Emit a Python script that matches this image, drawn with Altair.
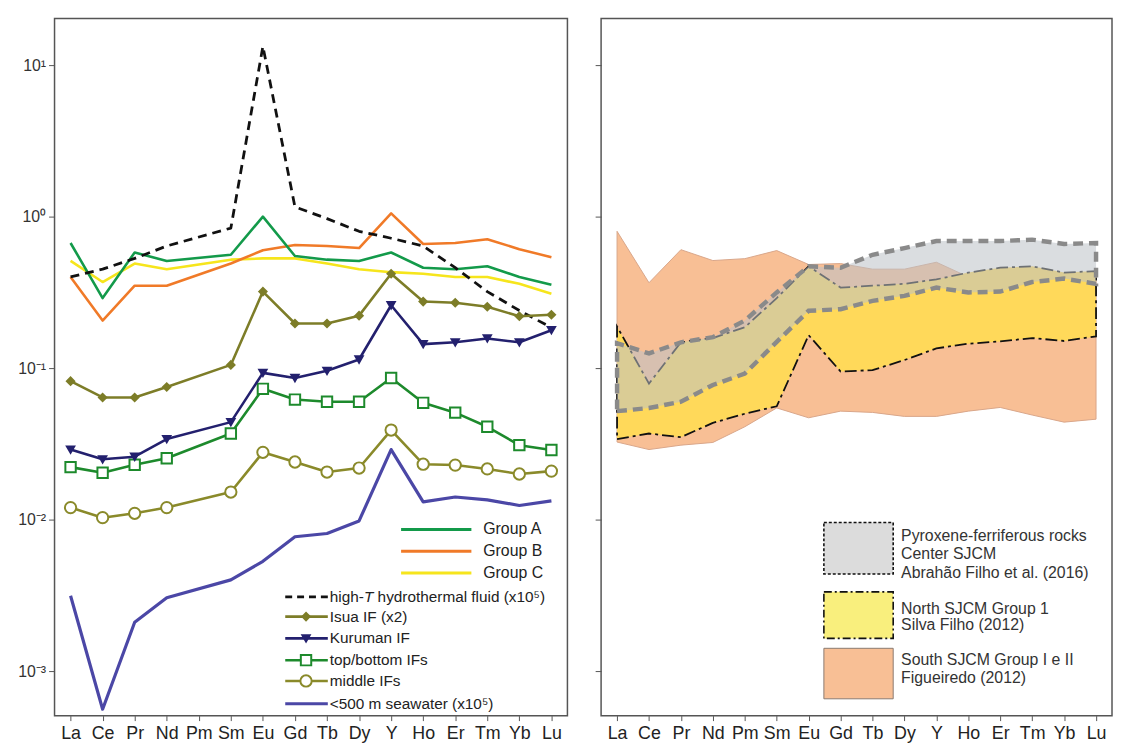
import altair as alt
import pandas as pd

# ---------------- data ----------------
ELEMENTS = ["La", "Ce", "Pr", "Nd", "Pm", "Sm", "Eu", "Gd", "Tb", "Dy", "Y", "Ho", "Er", "Tm", "Yb", "Lu"]
N = None

# left panel (normalized values, Pm missing)
group_a = [0.67, 0.29, 0.58, 0.51, N, 0.56, 1.00, 0.55, 0.52, 0.51, 0.58, 0.46, 0.45, 0.47, 0.40, 0.355]
group_b = [0.40, 0.206, 0.35, 0.35, N, 0.49, 0.60, 0.65, 0.64, 0.62, 1.05, 0.66, 0.67, 0.71, 0.61, 0.54]
group_c = [0.51, 0.37, 0.49, 0.45, N, 0.52, 0.53, 0.53, 0.49, 0.45, 0.43, 0.42, 0.40, 0.40, 0.36, 0.31]
hydrothermal = [0.40, 0.45, 0.53, 0.64, N, 0.84, 13.3, 1.16, 0.97, 0.80, 0.72, 0.64, 0.46, 0.32, 0.24, 0.185]
isua = [0.082, 0.064, 0.064, 0.075, N, 0.105, 0.32, 0.197, 0.197, 0.222, 0.42, 0.275, 0.27, 0.254, 0.22, 0.225]
kuruman = [0.029, 0.025, 0.026, 0.034, N, 0.044, 0.093, 0.086, 0.096, 0.114, 0.26, 0.144, 0.148, 0.157, 0.148, 0.178]
top_bottom = [0.0222, 0.0204, 0.023, 0.0254, N, 0.037, 0.073, 0.062, 0.060, 0.060, 0.086, 0.059, 0.0508, 0.041, 0.031, 0.0288]
middle = [0.012, 0.0103, 0.011, 0.012, N, 0.0152, 0.0278, 0.024, 0.0206, 0.0219, 0.039, 0.0232, 0.0229, 0.0216, 0.020, 0.0209]
seawater = [0.00314, 0.00056, 0.0021, 0.00305, N, 0.0040, 0.0053, 0.0077, 0.0081, 0.0098, 0.029, 0.0131, 0.0141, 0.0135, 0.0124, 0.0133]

# right panel (envelopes)
south_low = [0.0325, 0.029, 0.031, 0.0323, 0.041, 0.0546, 0.047, 0.052, 0.051, 0.048, 0.048, 0.052, 0.055, 0.049, 0.044, 0.046]
south_high = [0.80, 0.366, 0.605, 0.513, 0.528, 0.597, 0.483, 0.49, 0.45, 0.45, 0.50, 0.40, 0.41, 0.42, 0.40, 0.40]
north_low = [0.034, 0.037, 0.035, 0.0435, 0.050, 0.056, 0.165, 0.095, 0.097, 0.113, 0.135, 0.145, 0.150, 0.158, 0.151, 0.162]
north_high = [0.188, 0.079, 0.148, 0.158, 0.186, 0.29, 0.47, 0.34, 0.35, 0.36, 0.385, 0.427, 0.46, 0.47, 0.427, 0.437]
pyrox_low = [0.052, 0.0545, 0.060, 0.0774, 0.092, 0.149, 0.239, 0.245, 0.278, 0.30, 0.34, 0.316, 0.32, 0.37, 0.39, 0.36]
pyrox_high = [0.146, 0.125, 0.148, 0.160, 0.206, 0.316, 0.47, 0.46, 0.56, 0.62, 0.69, 0.69, 0.69, 0.705, 0.66, 0.67]

DECADES = [0.001, 0.01, 0.1, 1, 10]
DECADE_LABELS = ["10\u207b\u00b3", "10\u207b\u00b2", "10\u207b\u00b9", "10\u2070", "10\u00b9"]

# ---------------- styling ----------------
FONT = "Liberation Sans"
W_L, W_R, H = 518, 516, 704
Y_DOMAIN = [5.08e-4, 20.3]

label_expr = ("datum.value >= 5 ? '%s' : datum.value >= 0.5 ? '%s' : datum.value >= 0.05 ? '%s' : "
              "datum.value >= 0.005 ? '%s' : '%s'") % tuple(DECADE_LABELS[::-1])

x_scale = alt.Scale(type="point", domain=ELEMENTS, padding=0.5)
x_axis = alt.Axis(title=None, labelAngle=0, labelFontSize=18, labelColor="#222", tickSize=5,
                  labelPadding=4, domain=False, grid=False, tickColor="#555", labelFont=FONT)
y_scale = alt.Scale(type="log", domain=Y_DOMAIN, nice=False)
y_axis_left = alt.Axis(title=None, values=DECADES, labelExpr=label_expr, tickSize=6, labelFontSize=16,
                       labelColor="#333", minExtent=46, maxExtent=46, domain=False, grid=False,
                       tickColor="#555", labelFont=FONT, labelPadding=3)
y_axis_right = alt.Axis(title=None, values=DECADES, labels=False, tickSize=6, minExtent=6, maxExtent=6,
                        domain=False, grid=False, tickColor="#555")

X = alt.X("element:N", sort=ELEMENTS, scale=x_scale, axis=x_axis)
Y_L = alt.Y("value:Q", scale=y_scale, axis=y_axis_left)


def sdf(values):
    return pd.DataFrame({"element": ELEMENTS, "value": values}).dropna()


one = pd.DataFrame({"k": [0]})


def line_layer(values, color, width=2.6, dash=None):
    kw = dict(color=color, strokeWidth=width, strokeJoin="round")
    if dash:
        kw["strokeDash"] = dash
    return alt.Chart(sdf(values)).mark_line(**kw).encode(x=X, y=Y_L)


def point_layer(values, color, shape, size, fill):
    return alt.Chart(sdf(values)).mark_point(shape=shape, size=size, filled=True, fill=fill,
                                             stroke=color, strokeWidth=2, opacity=1).encode(x=X, y=Y_L)


C_A, C_B, C_C = "#139a4a", "#f07a28", "#f6e51c"
C_ISUA, C_KUR, C_TB, C_MID, C_SEA = "#7d7d28", "#23206e", "#1d8a2c", "#8a8a2a", "#4b47a6"

layers = [
    line_layer(group_c, C_C),
    line_layer(group_b, C_B),
    line_layer(group_a, C_A),
    line_layer(hydrothermal, "#111", 2.8, [9, 6]),
    line_layer(seawater, C_SEA, 3.2),
    line_layer(middle, C_MID),
    point_layer(middle, C_MID, "circle", 130, "white"),
    line_layer(top_bottom, C_TB),
    point_layer(top_bottom, C_TB, "square", 110, "white"),
    line_layer(kuruman, C_KUR),
    point_layer(kuruman, C_KUR, "triangle-down", 55, C_KUR),
    line_layer(isua, C_ISUA),
    point_layer(isua, C_ISUA, "diamond", 55, C_ISUA),
]


def txt(text, x, y, size, color="#222", style="normal"):
    return alt.Chart(one).mark_text(text=text, align="left", baseline="middle", fontSize=size,
                                    font=FONT, color=color, fontStyle=style).encode(x=alt.value(x), y=alt.value(y))


# legend of left panel
LEG_FS = 16
for lab, col, yy in [("Group A", C_A, 516), ("Group B", C_B, 538), ("Group C", C_C, 560)]:
    layers.append(alt.Chart(one).mark_rule(color=col, strokeWidth=3).encode(
        x=alt.value(350), x2=alt.value(421), y=alt.value(yy)))
    layers.append(txt(lab, 433, yy, LEG_FS))

SMALL_FS = 15.5
legend_items = [
    (None, "#111", [7, 5], None, 584, 2.8),
    ("Isua IF (x2)", C_ISUA, None, ("diamond", 55, C_ISUA), 604, 2.6),
    ("Kuruman IF", C_KUR, None, ("triangle-down", 55, C_KUR), 626, 2.6),
    ("top/bottom IFs", C_TB, None, ("square", 110, "white"), 648, 2.6),
    ("middle IFs", C_MID, None, ("circle", 130, "white"), 669, 2.6),
    ("<500 m seawater (x10\u2075)", C_SEA, None, None, 692, 3.2),
]
for lab, col, dash, mk, yy, sw in legend_items:
    kw = dict(color=col, strokeWidth=sw)
    if dash:
        kw["strokeDash"] = dash
    layers.append(alt.Chart(one).mark_rule(**kw).encode(x=alt.value(233), x2=alt.value(276), y=alt.value(yy)))
    if mk:
        layers.append(alt.Chart(one).mark_point(shape=mk[0], size=mk[1], filled=True, fill=mk[2], stroke=col,
                                                strokeWidth=2, opacity=1).encode(x=alt.value(254), y=alt.value(yy)))
    if lab:
        layers.append(txt(lab, 278, yy, SMALL_FS))

# "high-T hydrothermal fluid (x10^5)" with italic T
layers.append(txt("high-", 278, 584, SMALL_FS))
layers.append(txt("T", 278 + 34.5, 584, SMALL_FS, style="italic"))
layers.append(txt("hydrothermal fluid (x10\u2075)", 278 + 34.5 + 9.5 + 4.3, 584, SMALL_FS))

left = alt.layer(*layers).properties(width=W_L, height=H)

# ---------------- right panel ----------------
Y_R = alt.Y("lo:Q", scale=y_scale, axis=y_axis_right)


def band_df(lo, hi):
    return pd.DataFrame({"element": ELEMENTS, "lo": lo, "hi": hi})


south = alt.Chart(band_df(south_low, south_high)).mark_area(
    fill="#f8bf95", stroke="#d9a68a", strokeWidth=1, opacity=1).encode(x=X, y=Y_R, y2="hi:Q")
north = alt.Chart(band_df(north_low, north_high)).mark_area(
    fill="#ffd95a", stroke="#111", strokeWidth=1.8, strokeDash=[12, 4, 3, 4], opacity=1).encode(x=X, y=Y_R, y2="hi:Q")
pyrox = alt.Chart(band_df(pyrox_low, pyrox_high)).mark_area(
    fill="#bcc1c7", fillOpacity=0.55, stroke="#8a8a8a", strokeWidth=4.5, strokeDash=[10, 6]).encode(x=X, y=Y_R, y2="hi:Q")

rlayers = [south, north, pyrox]

R_FS = 16
rleg = [
    ("#dcdcdc", "#111", [3, 2], 1.6, 509, 561, ["Pyroxene-ferriferous rocks", "Center SJCM", "Abrah\u00e3o Filho et al. (2016)"], [523, 541, 560]),
    ("#f9ef7d", "#111", [8, 3, 2, 3], 1.6, 579, 626, ["North SJCM Group 1", "Silva Filho (2012)"], [596, 613]),
    ("#f8bf95", "#8a7a70", None, 1.0, 636, 687, ["South SJCM Group I e II", "Figueiredo (2012)"], [648, 666]),
]
for fill, stroke, dash, sw, y0, y1, texts, ys in rleg:
    kw = dict(fill=fill, stroke=stroke, strokeWidth=sw, opacity=1)
    if dash:
        kw["strokeDash"] = dash
    rlayers.append(alt.Chart(one).mark_rect(**kw).encode(
        x=alt.value(225), x2=alt.value(295), y=alt.value(y0), y2=alt.value(y1)))
    for t, yy in zip(texts, ys):
        rlayers.append(txt(t, 303, yy, R_FS, color="#333"))

right = alt.layer(*rlayers).properties(width=W_R, height=H)

chart = alt.hconcat(left, right, spacing=25).properties(
    padding={"left": 0, "top": 6, "right": 0, "bottom": 0}
).configure(font=FONT, background="white").configure_view(stroke="#555", strokeWidth=1.5)

chart.save("out.html", embed_options={"renderer": "svg", "actions": False})
